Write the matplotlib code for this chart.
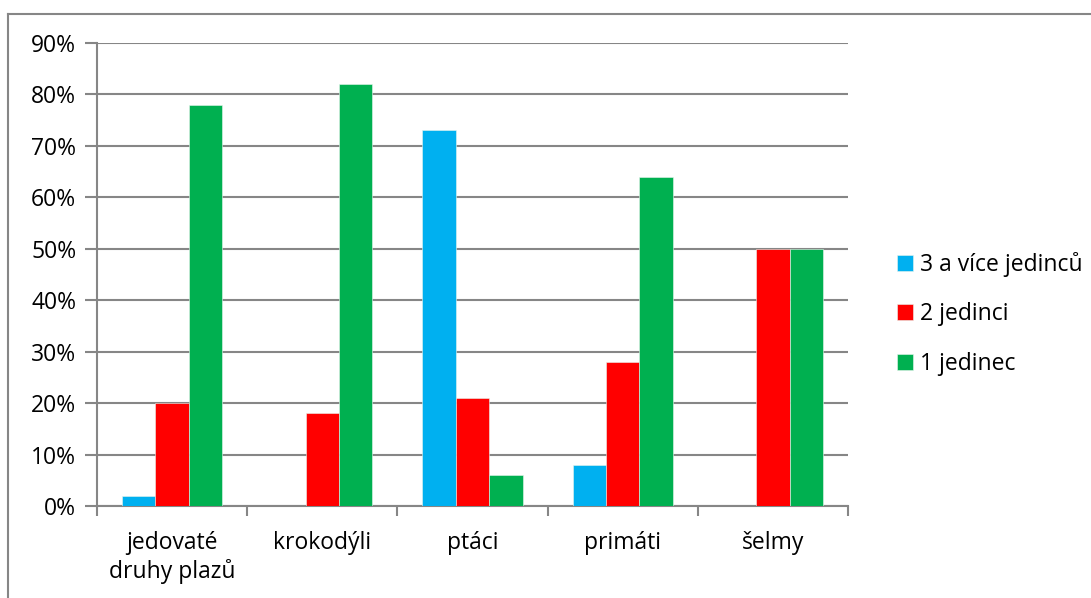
import numpy as np
import matplotlib
matplotlib.use('Agg')
import matplotlib.pyplot as plt
from matplotlib.lines import Line2D

plt.rcParams['font.family'] = ['Open Sans', 'DejaVu Sans']

categories = ["jedovaté\ndruhy plazů", "krokodýli", "ptáci", "primáti", "šelmy"]
series_names = ["3 a více jedinců", "2 jedinci", "1 jedinec"]
tri_plus = [2, 0, 73, 8, 0]
two = [20, 18, 21, 28, 50]
one = [78, 82, 6, 64, 50]
series_values = [tri_plus, two, one]
series_colors = ["#00B0F0", "#FF0000", "#00B050"]
y_ticks = [0, 10, 20, 30, 40, 50, 60, 70, 80, 90]

W, H = 1091, 598
fig = plt.figure(figsize=(W / 100, H / 100), dpi=100)
ax = fig.add_axes([97 / W, 1 - 506 / H, (848 - 97) / W, (506 - 43) / H])

grey = "#868686"
fs = 16.5
n = len(categories)
bar_w = 0.222
x = np.arange(n)
for i, (vals, col, name) in enumerate(zip(series_values, series_colors, series_names)):
    ax.bar(x + (i - 1) * bar_w, vals, width=bar_w, color=col, label=name,
           edgecolor="#e8f5ee", linewidth=0.4, zorder=3)

ax.set_xlim(-0.5, n - 0.5)
ax.set_ylim(0, 90)
ax.set_yticks(y_ticks)
ax.set_yticklabels([f"{v}%" for v in y_ticks])
ax.yaxis.grid(True, color=grey, linewidth=1.5, zorder=0)

# category boundaries as major ticks, labels on minor ticks
ax.set_xticks(np.arange(n + 1) - 0.5)
ax.set_xticklabels([])
ax.set_xticks(x, minor=True)
ax.set_xticklabels(categories, minor=True, linespacing=1.2)
ax.tick_params(axis='x', which='major', length=7, width=1.5, color=grey, direction='out')
ax.tick_params(axis='x', which='minor', length=0, pad=18, labelsize=fs, colors="#000000")
ax.tick_params(axis='y', length=9, width=1.5, color=grey, labelsize=fs, pad=6)

for s in ["top", "right"]:
    ax.spines[s].set_visible(False)
for s in ["left", "bottom"]:
    ax.spines[s].set_color(grey)
    ax.spines[s].set_linewidth(1.5)

leg = ax.legend(loc="upper left", bbox_to_anchor=(888 / W, 1 - 243 / H),
                bbox_transform=fig.transFigure, frameon=False, fontsize=fs,
                handlelength=0.7, handleheight=0.7, handletextpad=0.3,
                labelspacing=1.1, borderaxespad=0)

# outer chart border (only top and left visible in crop)
fig.add_artist(Line2D([8 / W, 1], [1 - 14 / H, 1 - 14 / H], transform=fig.transFigure,
                      color=grey, linewidth=1.5))
fig.add_artist(Line2D([8 / W, 8 / W], [0, 1 - 14 / H], transform=fig.transFigure,
                      color=grey, linewidth=1.5))

fig.savefig("out.png", dpi=100, facecolor="white")
